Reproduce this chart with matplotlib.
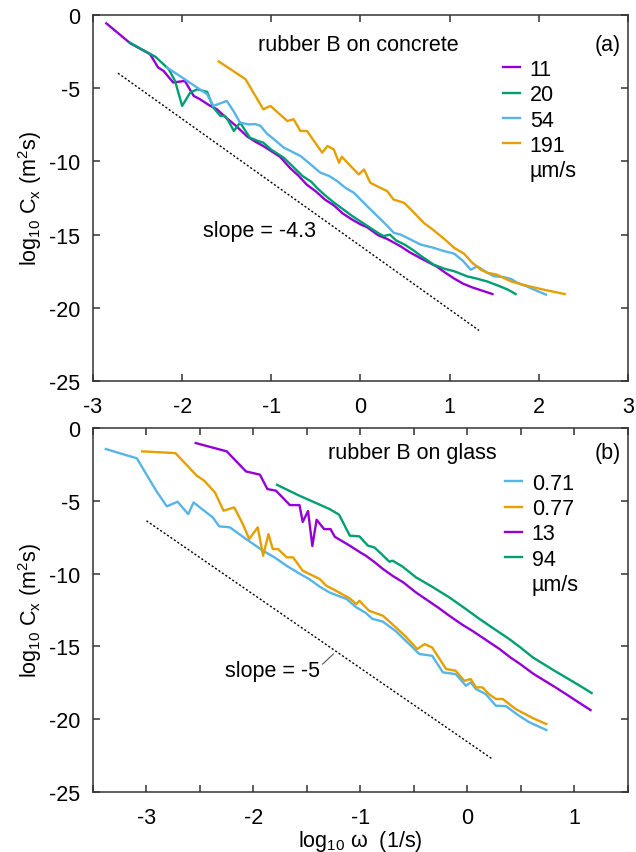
import matplotlib
matplotlib.use('Agg')
import matplotlib.pyplot as plt
from matplotlib.lines import Line2D

plt.rcParams['font.family'] = ['Liberation Sans', 'DejaVu Sans']
plt.rcParams['mathtext.fontset'] = 'custom'
plt.rcParams['mathtext.rm'] = 'Liberation Sans'
plt.rcParams['mathtext.default'] = 'regular'
plt.rcParams['axes.unicode_minus'] = False

# ---- panel (a): rubber B on concrete ----
a_11_x = [-2.85, -2.58, -2.36, -2.27, -2.21, -2.10, -1.97, -1.87, -1.80, -1.70, -1.61, -1.50, -1.40,
          -1.27, -1.18, -1.09, -1.00, -0.90, -0.79, -0.70, -0.60, -0.50, -0.40, -0.30, -0.20, -0.10,
          0.00, 0.075, 0.20, 0.30, 0.45, 0.55, 0.67, 0.86, 0.95, 1.05, 1.15, 1.25, 1.35, 1.48]
a_11_y = [-0.57, -1.94, -2.67, -3.58, -3.81, -4.61, -4.50, -5.53, -5.75, -6.15, -6.44, -7.05, -7.55,
          -8.30, -8.65, -8.95, -9.30, -9.70, -10.45, -10.95, -11.6, -12.05, -12.6, -13.0, -13.55, -13.95,
          -14.3, -14.5, -15.05, -15.3, -15.8, -16.2, -16.6, -17.2, -17.6, -18.0, -18.35, -18.6, -18.8, -19.06]

a_20_x = [-2.59, -2.45, -2.30, -2.15, -2.08, -2.00, -1.91, -1.83, -1.72, -1.65, -1.57, -1.52, -1.48,
          -1.42, -1.35, -1.24, -1.15, -1.09, -1.00, -0.86, -0.75, -0.65, -0.55, -0.49, -0.40, -0.30,
          -0.19, -0.10, 0.00, 0.10, 0.20, 0.26, 0.33, 0.40, 0.50, 0.60, 0.674, 0.82, 0.95, 1.05, 1.20,
          1.30, 1.42, 1.55, 1.65, 1.74]
a_20_y = [-1.87, -2.35, -2.85, -3.70, -4.50, -6.21, -5.30, -5.07, -5.25, -6.32, -6.90, -6.90, -7.24,
          -7.92, -7.35, -8.38, -8.60, -8.72, -9.20, -9.75, -10.4, -11.0, -11.4, -11.8, -12.3, -12.8,
          -13.29, -13.7, -14.1, -14.5, -14.9, -15.1, -15.0, -15.4, -15.7, -16.1, -16.44, -17.05, -17.35,
          -17.5, -17.86, -18.0, -18.2, -18.5, -18.75, -19.06]

a_54_x = [-2.17, -1.72, -1.65, -1.50, -1.42, -1.35, -1.26, -1.18, -1.12, -1.05, -0.97, -0.86, -0.78,
          -0.67, -0.58, -0.45, -0.35, -0.26, -0.17, -0.075, 0.075, 0.20, 0.30, 0.374, 0.45, 0.55, 0.674,
          0.82, 0.92, 1.05, 1.15, 1.236, 1.31, 1.42, 1.50, 1.60, 1.69, 1.76, 1.87, 1.95, 2.08]
a_54_y = [-3.58, -5.41, -6.21, -5.87, -6.60, -7.35, -7.47, -7.45, -7.58, -8.10, -8.49, -9.06, -9.30,
          -9.64, -10.1, -10.77, -11.0, -11.35, -11.8, -12.14, -13.06, -13.8, -14.4, -14.88, -15.0, -15.3,
          -15.68, -15.9, -16.1, -16.3, -16.8, -17.4, -17.17, -17.6, -17.85, -17.9, -18.03, -18.3, -18.55,
          -18.77, -19.1]

a_191_x = [-1.59, -1.29, -1.09, -1.01, -0.82, -0.75, -0.674, -0.60, -0.43, -0.37, -0.30, -0.24, -0.21,
           -0.11, -0.02, 0.04, 0.11, 0.22, 0.30, 0.37, 0.49, 0.60, 0.71, 0.82, 0.94, 1.05, 1.16, 1.25,
           1.35, 1.42, 1.53, 1.69, 1.87, 2.06, 2.29]
a_191_y = [-3.17, -4.38, -6.44, -6.21, -7.24, -7.12, -7.92, -7.92, -9.40, -8.95, -9.18, -10.09, -9.68,
           -10.32, -10.89, -10.55, -11.46, -11.8, -12.03, -12.6, -12.83, -13.5, -14.2, -14.7, -15.3,
           -15.9, -16.3, -16.9, -17.4, -17.6, -17.74, -18.2, -18.5, -18.77, -19.06]

a_fit_x = [-2.72, 1.33]
a_fit_y = [-3.97, -21.55]

# ---- panel (b): rubber B on glass ----
b_071_x = [-3.38, -3.09, -2.91, -2.81, -2.71, -2.61, -2.56, -2.38, -2.32, -2.22, -2.07, -1.91, -1.80,
           -1.69, -1.57, -1.48, -1.38, -1.29, -1.20, -1.13, -1.04, -0.95, -0.89, -0.79, -0.67, -0.55,
           -0.45, -0.33, -0.23, -0.11, -0.015, 0.03, 0.08, 0.17, 0.265, 0.36, 0.47, 0.576, 0.737]
b_071_y = [-1.44, -2.08, -4.30, -5.38, -5.06, -5.91, -5.11, -6.14, -6.75, -6.82, -7.62, -8.43, -8.90,
           -9.46, -10.0, -10.37, -10.9, -11.29, -11.55, -11.74, -12.31, -12.7, -13.1, -13.3, -13.95, -14.8,
           -15.52, -15.64, -16.78, -16.9, -17.7, -17.47, -17.93, -18.27, -19.07, -19.1, -19.7, -20.2, -20.74]

b_077_x = [-3.04, -2.73, -2.53, -2.46, -2.36, -2.28, -2.18, -2.10, -2.04, -1.96, -1.91, -1.86, -1.82,
           -1.77, -1.69, -1.63, -1.54, -1.38, -1.32, -1.23, -1.10, -1.04, -1.01, -0.92, -0.79, -0.67,
           -0.58, -0.47, -0.40, -0.33, -0.20, -0.11, -0.03, 0.03, 0.08, 0.14, 0.20, 0.265, 0.33, 0.45,
           0.61, 0.737]
b_077_y = [-1.60, -1.72, -3.27, -3.62, -4.42, -5.68, -5.45, -6.59, -7.62, -6.82, -8.77, -7.28, -8.31,
           -8.31, -8.88, -8.88, -9.80, -10.37, -10.83, -11.17, -11.7, -12.09, -11.86, -12.55, -12.89,
           -13.69, -14.3, -15.18, -14.84, -15.07, -16.55, -16.67, -17.36, -17.24, -17.81, -17.81, -18.27,
           -18.61, -18.61, -19.3, -19.92, -20.33]

b_13_x = [-2.54, -2.25, -2.07, -1.94, -1.87, -1.79, -1.66, -1.57, -1.54, -1.49, -1.45, -1.41, -1.34,
          -1.28, -1.24, -1.10, -1.00, -0.95, -0.87, -0.79, -0.70, -0.60, -0.48, -0.38, -0.27, -0.17,
          -0.05, 0.05, 0.16, 0.30, 0.40, 0.50, 0.61, 0.72, 0.82, 0.92, 1.03, 1.15]
b_13_y = [-1.03, -1.60, -2.98, -3.20, -4.19, -4.30, -5.29, -5.29, -6.45, -5.70, -8.10, -6.30, -6.94,
          -6.94, -7.47, -8.08, -8.55, -8.77, -9.20, -9.68, -10.15, -10.6, -11.3, -11.8, -12.35, -12.89,
          -13.5, -13.95, -14.49, -15.18, -15.75, -16.25, -16.85, -17.35, -17.8, -18.27, -18.8, -19.37]

b_94_x = [-1.78, -1.57, -1.40, -1.29, -1.20, -1.10, -1.01, -0.93, -0.87, -0.82, -0.73, -0.70, -0.61,
          -0.48, -0.40, -0.33, -0.17, -0.015, 0.11, 0.25, 0.39, 0.50, 0.61, 0.72, 0.82, 0.92, 1.05, 1.16]
b_94_y = [-3.90, -4.65, -5.20, -5.56, -5.95, -7.39, -7.44, -8.08, -8.20, -8.54, -9.18, -9.11, -9.50,
          -10.26, -10.6, -10.9, -11.63, -12.43, -13.1, -13.8, -14.49, -15.1, -15.75, -16.25, -16.7,
          -17.13, -17.7, -18.2]

b_fit_x = [-3.0, 0.224]
b_fit_y = [-6.37, -22.69]

purple = '#9400d3'
green = '#009e73'
blue = '#56b4e9'
orange = '#e69f00'

fig = plt.figure(figsize=(6.36, 8.53), dpi=100)
ax1 = fig.add_axes([0.1462, 0.5522, 0.8412, 0.4290])
ax2 = fig.add_axes([0.1462, 0.0703, 0.8412, 0.4267])

lw = 1.7
fs = 15.5
ax1.plot(a_11_x, a_11_y, color=purple, lw=lw, label='11')
ax1.plot(a_20_x, a_20_y, color=green, lw=lw, label='20')
ax1.plot(a_54_x, a_54_y, color=blue, lw=lw, label='54')
ax1.plot(a_191_x, a_191_y, color=orange, lw=lw, label='191')
ax1.plot(a_fit_x, a_fit_y, color='black', lw=1.0, ls=(0, (1.5, 1.5)))

ax2.plot(b_071_x, b_071_y, color=blue, lw=lw, label='0.71')
ax2.plot(b_077_x, b_077_y, color=orange, lw=lw, label='0.77')
ax2.plot(b_13_x, b_13_y, color=purple, lw=lw, label='13')
ax2.plot(b_94_x, b_94_y, color=green, lw=lw, label='94')
ax2.plot(b_fit_x, b_fit_y, color='black', lw=1.0, ls=(0, (1.5, 1.5)))

ax1.set_xlim(-3, 3)
ax1.set_ylim(-25, 0)
ax1.set_xticks(range(-3, 4))
ax1.set_yticks(range(-25, 1, 5))

ax2.set_xlim(-3.5, 1.5)
ax2.set_ylim(-25, 0)
ax2.set_xticks(range(-3, 2))
ax2.set_xticks([-3.5, -2.5, -1.5, -0.5, 0.5, 1.5], minor=True)
ax2.set_yticks(range(-25, 1, 5))

for ax in (ax1, ax2):
    for s in ax.spines.values():
        s.set_color('#333333')
        s.set_linewidth(1.1)
    ax.tick_params(which='both', direction='in', top=True, right=True,
                   labelsize=fs, color='#333333', width=1.1, length=5)
    ax.tick_params(axis='x', pad=11)
    ax.tick_params(axis='y', pad=9)
    ax.set_ylabel('log$_{10}$ C$_x$ (m$^2$s)', fontsize=fs, labelpad=4)

ax2.set_xlabel('log$_{10}$ ω  (1/s)', fontsize=fs, labelpad=0)

ax1.text(0.308, 0.92, 'rubber B on concrete', transform=ax1.transAxes, fontsize=fs,
         ha='left', va='center')
ax1.text(0.962, 0.92, '(a)', transform=ax1.transAxes, fontsize=fs, ha='center', va='center')
ax2.text(0.439, 0.934, 'rubber B on glass', transform=ax2.transAxes, fontsize=fs,
         ha='left', va='center')
ax2.text(0.962, 0.934, '(b)', transform=ax2.transAxes, fontsize=fs, ha='center', va='center')

ax1.text(-1.764, -14.73, 'slope = -4.3', fontsize=fs, ha='left', va='center')
ax2.text(-2.27, -16.62, 'slope = -5', fontsize=fs, ha='left', va='center')
ax2.plot([-1.353, -1.253], [-16.21, -15.52], color='#555555', lw=0.8)

unit = Line2D([], [], color='none')
for ax, anchor in ((ax1, (0.766, 0.88)), (ax2, (0.770, 0.877))):
    h, l = ax.get_legend_handles_labels()
    ax.legend(h + [unit], l + ['µm/s'], loc='upper left', bbox_to_anchor=anchor,
              frameon=False, fontsize=fs, handlelength=0.8, handletextpad=0.45,
              labelspacing=0.2, borderpad=0, borderaxespad=0)

fig.savefig('out.png', dpi=100)
